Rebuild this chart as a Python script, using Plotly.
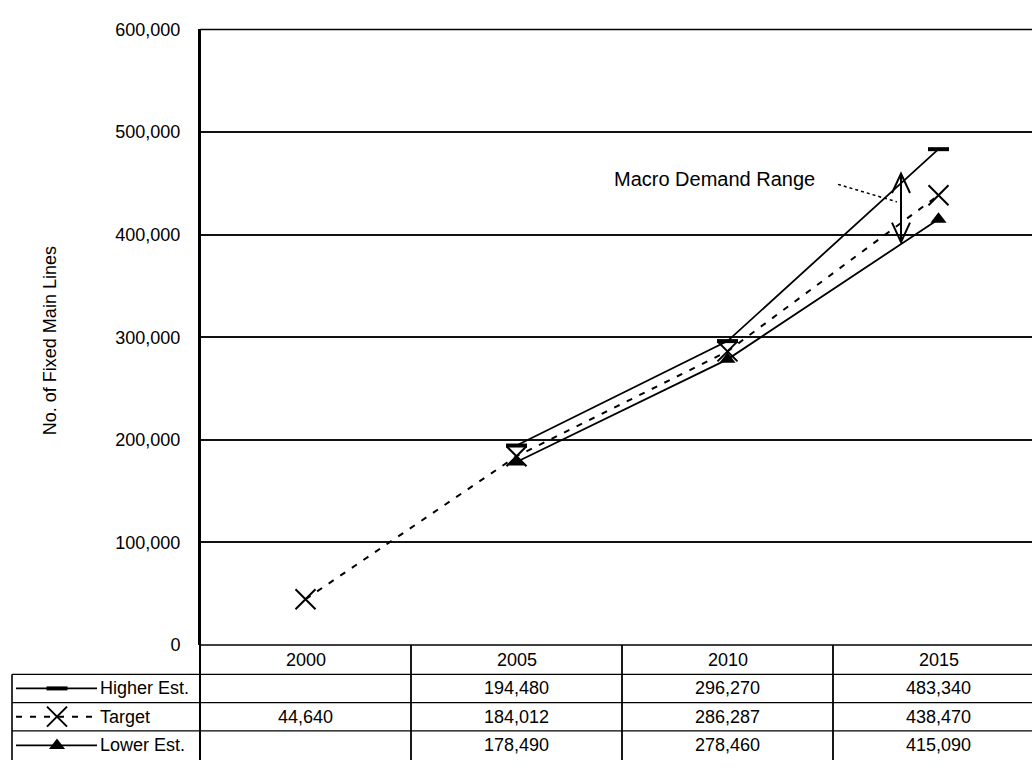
import plotly.graph_objects as go

# ---------------- data ----------------
years = ["2000", "2005", "2010", "2015"]
higher = [None, 194480, 296270, 483340]
target = [44640, 184012, 286287, 438470]
lower = [None, 178490, 278460, 415090]
series_names = ["Higher Est.", "Target", "Lower Est."]
y_ticks = [0, 100000, 200000, 300000, 400000, 500000, 600000]
y_title = "No. of Fixed Main Lines"
range_label = "Macro Demand Range"

# ---------------- layout geometry (pixels) ----------------
W, H = 1032, 770
PL, PT, PB = 200, 20, 652          # plot left / top / bottom
COL_W = 211                         # width of one category column
ROWS = [652, 682, 711, 740, 770]    # table row edges
TABLE_L = 12
FONT = "Liberation Sans, Arial, sans-serif"
YMAX = 600000

def px_x(p):
    return (p - PL) / COL_W - 0.5

def px_dy(d):
    return d / (PB - PT) * YMAX

def py(p):
    return 1 - p / H

xs = list(range(len(years)))

fig = go.Figure()

styles = [
    dict(line=dict(color="black", width=1.8),
         marker=dict(symbol="line-ew", size=15, line=dict(color="black", width=4))),
    dict(line=dict(color="black", width=2, dash="6px,8px"),
         marker=dict(symbol="x-thin", size=20, line=dict(color="black", width=2))),
    dict(line=dict(color="black", width=1.8),
         marker=dict(symbol="triangle-up", size=14, color="black")),
]
for name, vals, st in zip(series_names, [higher, target, lower], styles):
    fig.add_trace(go.Scatter(x=xs, y=vals, name=name, mode="lines+markers",
                             line=st["line"], marker=st["marker"],
                             connectgaps=False, cliponaxis=False,
                             showlegend=False, xaxis="x", yaxis="y"))

# legend samples inside the table (pixel-space overlay axes)
row_centers = [(ROWS[i] + ROWS[i + 1]) / 2 for i in range(len(ROWS) - 1)]
for i, (name, st) in enumerate(zip(series_names, styles)):
    c = row_centers[i + 1]
    fig.add_trace(go.Scatter(x=[16, 97], y=[c, c], mode="lines", line=st["line"],
                             showlegend=False, xaxis="x2", yaxis="y2", hoverinfo="skip"))
    fig.add_trace(go.Scatter(x=[57], y=[c], mode="markers", marker=st["marker"],
                             showlegend=False, xaxis="x2", yaxis="y2", hoverinfo="skip",
                             cliponaxis=False))

shapes = []
annotations = []
BLACK = "black"

# top border of plot
shapes.append(dict(type="line", xref="paper", yref="paper", x0=PL / W, x1=1,
                   y0=py(PT), y1=py(PT), line=dict(color=BLACK, width=1.6)))
# table horizontal lines
shapes.append(dict(type="line", xref="paper", yref="paper", x0=PL / W, x1=1,
                   y0=py(ROWS[0]), y1=py(ROWS[0]), line=dict(color=BLACK, width=1.6)))
for r in ROWS[1:-1]:
    shapes.append(dict(type="line", xref="paper", yref="paper", x0=TABLE_L / W, x1=1,
                       y0=py(r), y1=py(r), line=dict(color=BLACK, width=1.3)))
# table vertical lines
shapes.append(dict(type="line", xref="paper", yref="paper", x0=TABLE_L / W, x1=TABLE_L / W,
                   y0=py(ROWS[1]), y1=0, line=dict(color=BLACK, width=1.6)))
shapes.append(dict(type="line", xref="paper", yref="paper", x0=PL / W, x1=PL / W,
                   y0=py(PT), y1=0, line=dict(color=BLACK, width=2)))
for k in range(len(years) - 1):
    shapes.append(dict(type="line", xref="x", yref="paper", x0=k + 0.5, x1=k + 0.5,
                       y0=py(ROWS[0]), y1=0, line=dict(color=BLACK, width=1.8)))

# table text
for k, yr in enumerate(years):
    annotations.append(dict(x=k, y=py(row_centers[0]), xref="x", yref="paper",
                            text=yr, showarrow=False, xanchor="center", yanchor="middle"))
for i, vals in enumerate([higher, target, lower]):
    for k, v in enumerate(vals):
        if v is None:
            continue
        annotations.append(dict(x=k, y=py(row_centers[i + 1]), xref="x", yref="paper",
                                text=f"{v:,}", showarrow=False,
                                xanchor="center", yanchor="middle"))
for i, name in enumerate(series_names):
    annotations.append(dict(x=98 / W, y=py(row_centers[i + 1]), xref="paper", yref="paper",
                            text=name, showarrow=False, xanchor="left", yanchor="middle"))

# y axis title
annotations.append(dict(x=50 / W, y=py(340), xref="paper", yref="paper",
                        text=y_title, textangle=-90, showarrow=False,
                        xanchor="center", yanchor="middle", font=dict(size=18)))

# Macro demand range arrow (between the higher and lower lines)
a = px_x(901)
t = a - 2
hi_a = higher[2] + t * (higher[3] - higher[2])
lo_a = lower[2] + t * (lower[3] - lower[2])
top = hi_a + px_dy(10)
bot = lo_a + px_dy(2)
shapes.append(dict(type="line", xref="x", yref="y", x0=a, x1=a, y0=bot, y1=top,
                   line=dict(color=BLACK, width=2)))
wx = 9 / COL_W
wy = px_dy(20)
shapes.append(dict(type="path", xref="x", yref="y",
                   path=f"M {a - wx},{top - wy} L {a},{top} L {a + wx},{top - wy}",
                   line=dict(color=BLACK, width=2)))
shapes.append(dict(type="path", xref="x", yref="y",
                   path=f"M {a - wx},{bot + wy} L {a},{bot} L {a + wx},{bot + wy}",
                   line=dict(color=BLACK, width=2)))
# dotted leader
shapes.append(dict(type="line", xref="paper", yref="paper", x0=838 / W, y0=py(179),
                   x1=897 / W, y1=py(197), line=dict(color=BLACK, width=1.5, dash="dot")))
annotations.append(dict(x=612 / W, y=py(174), xref="paper", yref="paper",
                        text=range_label, showarrow=False, xanchor="left",
                        yanchor="middle", font=dict(size=20)))

fig.update_layout(
    width=W, height=H,
    margin=dict(l=0, r=0, t=0, b=0),
    paper_bgcolor="white",
    plot_bgcolor="rgba(0,0,0,0)",
    font=dict(family=FONT, size=18, color="black"),
    showlegend=False,
    xaxis=dict(domain=[PL / W, 1], range=[-0.5, -0.5 + (W - PL) / COL_W],
               showticklabels=False, showgrid=False, zeroline=False, showline=False,
               ticks="", fixedrange=True),
    yaxis=dict(domain=[1 - PB / H, 1 - PT / H], range=[0, YMAX], tickvals=y_ticks,
               tickformat=",", showgrid=True, gridcolor="#111", gridwidth=1.5,
               zeroline=False, showline=True, linecolor=BLACK, linewidth=2,
               ticks="", ticklabelstandoff=14, tickfont=dict(size=18)),
    xaxis2=dict(domain=[0, 1], range=[0, W], visible=False, anchor="y2", fixedrange=True),
    yaxis2=dict(domain=[0, 1], range=[H, 0], visible=False, anchor="x2", fixedrange=True),
    shapes=shapes,
    annotations=annotations,
)

fig.write_html("out.html",
               post_script="document.body.style.margin='0';document.body.style.overflow='hidden';")
